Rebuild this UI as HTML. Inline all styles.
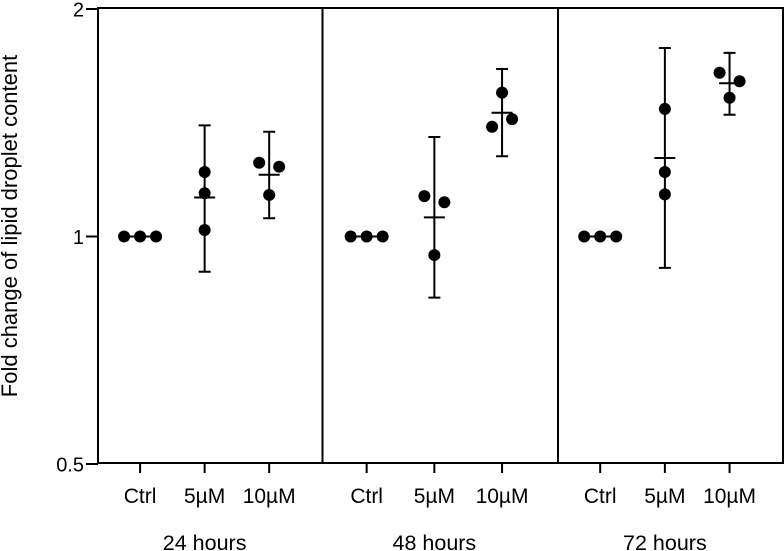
<!DOCTYPE html>
<html><head><meta charset="utf-8"><style>
html,body{margin:0;padding:0;background:#fff;}
svg{display:block;font-family:"Liberation Sans",Arial,sans-serif;}
</style></head><body>
<svg id="chart" width="784" height="551" viewBox="0 0 784 551" xmlns="http://www.w3.org/2000/svg"></svg>
<script>
const panels = ["24 hours", "48 hours", "72 hours"];
const groups = ["Ctrl", "5µM", "10µM"];
const yTicks = [0.5, 1, 2];
const yTickLabels = ["0.5", "1", "2"];
// values per panel, per group, three replicates
const points24 = [[1, 1, 1], [1.217, 1.141, 1.020], [1.252, 1.237, 1.135]];
const points48 = [[1, 1, 1], [1.131, 1.110, 0.945], [1.550, 1.397, 1.430]];
const points72 = [[1, 1, 1], [1.475, 1.217, 1.137], [1.647, 1.605, 1.526]];
const means24 = [1, 1.126, 1.207];
const means48 = [1, 1.060, 1.458];
const means72 = [1, 1.270, 1.595];
const errHigh24 = [null, 1.403, 1.376];
const errHigh48 = [null, 1.354, 1.666];
const errHigh72 = [null, 1.776, 1.750];
const errLow24 = [null, 0.898, 1.057];
const errLow48 = [null, 0.830, 1.277];
const errLow72 = [null, 0.909, 1.449];
const jitter = [[[-16, 0, 16], [0, 0, 0], [-10, 10, 0]],
                [[-16, 0, 16], [-10, 10, 0], [0, -10, 10]],
                [[-16, 0, 16], [0, 0, 0], [-10, 10, 0]]];

const allPoints = [points24, points48, points72];
const allMeans = [means24, means48, means72];
const allHigh = [errHigh24, errHigh48, errHigh72];
const allLow = [errLow24, errLow48, errLow72];

const NS = "http://www.w3.org/2000/svg";
const svg = document.getElementById("chart");
const plotTop = 8, plotBottom = 463, left = 98, right = 783;
const panelEdges = [98, 322.5, 558, 783];
function y(v) { return 236.5 - 227.5 * Math.log2(v); }
function x(p, g) { return panelEdges[p] + (panelEdges[p + 1] - panelEdges[p]) * (0.1875 + g * 0.2875); }
function el(tag, attrs, parent) {
  const e = document.createElementNS(NS, tag);
  for (const k in attrs) e.setAttribute(k, attrs[k]);
  (parent || svg).appendChild(e);
  return e;
}
const S = "#000";
const frame = el("rect", {x: left, y: plotTop, width: right - left, height: plotBottom - plotTop, fill: "none", stroke: S, "stroke-width": 2});


[1, 2].forEach(i => {
  const d = el("line", {x1: panelEdges[i], x2: panelEdges[i], y1: plotTop, y2: plotBottom, stroke: S, "stroke-width": 2});
  
  
});
yTicks.forEach((v, i) => {
  const t = el("line", {x1: left - 12, x2: left, y1: y(v), y2: y(v), stroke: S, "stroke-width": 2});
  
  
  const lb = el("text", {x: left - 14, y: y(v) + 7.5, "text-anchor": "end", "font-size": 20});
  lb.textContent = yTickLabels[i];
  
  
});
const yt = el("text", {x: 0, y: 0, "text-anchor": "middle", "font-size": 22, transform: "translate(17,226) rotate(-90)"});
yt.textContent = "Fold change of lipid droplet content";



panels.forEach((pname, p) => {
  groups.forEach((gname, g) => {
    const cx = x(p, g);
    const tk = el("line", {x1: cx, x2: cx, y1: plotBottom, y2: plotBottom + 10, stroke: S, "stroke-width": 2});
    
    
    const lb = el("text", {x: cx, y: 503, "text-anchor": "middle", "font-size": 21});
    lb.textContent = gname;
    
    
    const hi = allHigh[p][g], lo = allLow[p][g];
    if (hi !== null) {
      const eb = el("path", {d: `M${cx},${y(hi)}V${y(lo)}M${cx-6},${y(hi)}H${cx+6}M${cx-6},${y(lo)}H${cx+6}`, stroke: S, "stroke-width": 2, fill: "none"});
      
      
    }
    const m = el("line", {x1: cx - 10.5, x2: cx + 10.5, y1: y(allMeans[p][g]), y2: y(allMeans[p][g]), stroke: S, "stroke-width": 2});
    
    
    allPoints[p][g].forEach((v, k) => {
      const c = el("circle", {cx: cx + jitter[p][g][k], cy: y(v), r: 6, fill: S});
      
      
    });
  });
  const pl = el("text", {x: x(p, 1), y: 550, "text-anchor": "middle", "font-size": 21.5});
  pl.textContent = pname;
  
  
});
</script>
</body></html>
